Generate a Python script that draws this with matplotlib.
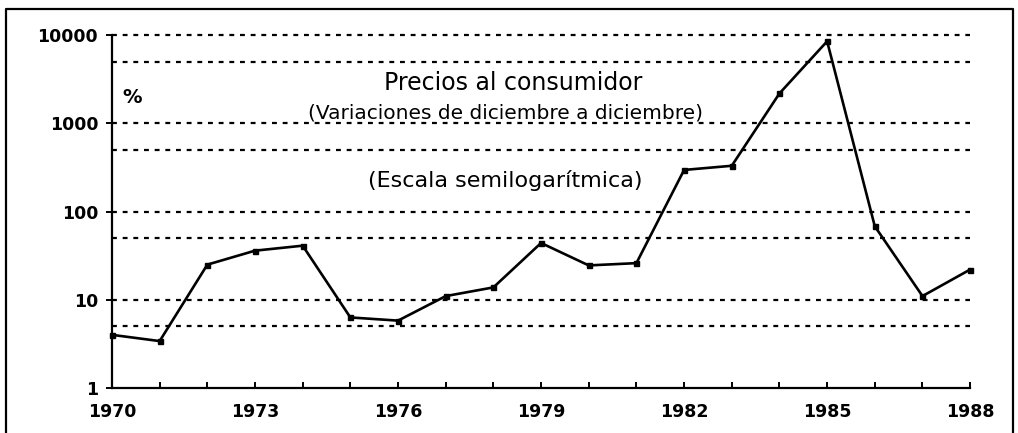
import matplotlib
matplotlib.use('Agg')
import matplotlib.pyplot as plt
from matplotlib.lines import Line2D
from matplotlib.ticker import FixedLocator, NullLocator

# consumer price variations, december to december (%)
years = list(range(1970, 1989))
inflation = [4.0, 3.4, 25, 36, 41, 6.3, 5.8, 11, 13.8, 44, 24.5, 26,
             296, 330, 2180, 8500, 68, 11, 22]

grid_levels = [5, 10, 50, 100, 500, 1000, 5000, 10000]
y_ticks = [1, 10, 100, 1000, 10000]
y_tick_labels = ['1', '10', '100', '1000', '10000']
x_label_years = [1970, 1973, 1976, 1979, 1982, 1985, 1988]

fig = plt.figure(figsize=[10.18, 4.33], dpi=100)
ax = fig.add_axes([0.110, 0.104, 0.843, 0.815])

for level in grid_levels:
    ax.axhline(level, color='black', linewidth=1.6, linestyle=(0, (2.2, 2.6)),
               zorder=1, clip_on=False)

ax.plot(years, inflation, color='black', linewidth=1.9, marker='s', markersize=3.6,
        zorder=3, clip_on=False)

ax.set_yscale('log')
ax.set_xlim(1970, 1988)
ax.set_ylim(1, 10000)

ax.yaxis.set_major_locator(FixedLocator(y_ticks))
ax.yaxis.set_minor_locator(NullLocator())
ax.set_yticklabels(y_tick_labels)
ax.set_xticks(years)
ax.set_xticklabels([str(y) if y in x_label_years else '' for y in years])

for side in ['top', 'right']:
    ax.spines[side].set_visible(False)
for side in ['left', 'bottom']:
    ax.spines[side].set_linewidth(1.6)

ax.tick_params(axis='x', direction='in', length=4, width=1.4, pad=11, labelsize=12.5)
ax.tick_params(axis='y', direction='out', length=4, width=1.4, pad=6, labelsize=12.5)
for lbl in ax.get_xticklabels() + ax.get_yticklabels():
    lbl.set_fontweight('bold')

ax.text(0.012, 0.824, '%', transform=ax.transAxes, fontsize=14, fontweight='bold',
        ha='left', va='center')
ax.text(0.467, 0.864, 'Precios al consumidor', transform=ax.transAxes, fontsize=17,
        ha='center', va='center')
ax.text(0.458, 0.779, '(Variaciones de diciembre a diciembre)', transform=ax.transAxes,
        fontsize=14.5, ha='center', va='center')
ax.text(0.458, 0.589, '(Escala semilogarítmica)', transform=ax.transAxes, fontsize=16,
        ha='center', va='center')

# outer frame of the figure
frame_x = [0.006, 0.006, 0.995, 0.995]
frame_y = [0.0, 0.979, 0.979, 0.0]
fig.add_artist(Line2D(frame_x, frame_y, transform=fig.transFigure, color='black', linewidth=1.6))

fig.savefig('out.png', dpi=100)
